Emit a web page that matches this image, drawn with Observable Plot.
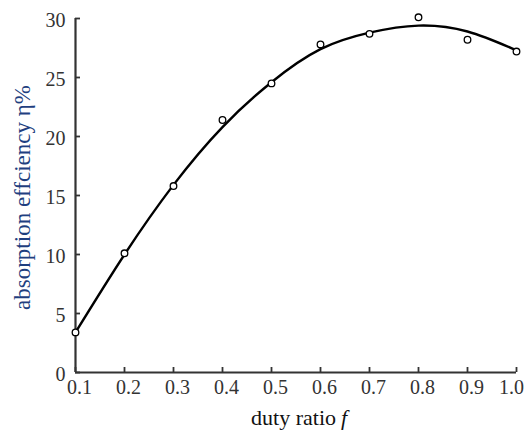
<!DOCTYPE html>
<html>
<head>
<meta charset="utf-8">
<script src="https://cdn.jsdelivr.net/npm/d3@7"></script>
<script src="https://cdn.jsdelivr.net/npm/@observablehq/plot@0.6"></script>
<style>
  html, body { margin: 0; padding: 0; background: #fff; }
  #chart { width: 527px; height: 437px; }
</style>
</head>
<body>
<div id="chart"></div>
<script>
// Measured points
const dutyRatio = [0.1, 0.2, 0.3, 0.4, 0.5, 0.6, 0.7, 0.8, 0.9, 1.0];
const measured  = [3.4, 10.1, 15.8, 21.4, 24.5, 27.8, 28.7, 30.1, 28.2, 27.2];
// Fitted curve values
const fitRatio  = [0.1, 0.2, 0.3, 0.4, 0.5, 0.6, 0.7, 0.8, 0.9, 1.0];
const fitted    = [3.4, 10.0, 15.9, 20.8, 24.6, 27.4, 28.8, 29.4, 28.9, 27.3];
// Ticks
const xTicks = [0.1, 0.2, 0.3, 0.4, 0.5, 0.6, 0.7, 0.8, 0.9, 1.0];
const yTicks = [0, 5, 10, 15, 20, 25, 30];
const xLabel = "duty ratio";
const xLabelItalic = "f";
const yLabel = "absorption effciency η%";

const points = dutyRatio.map((x, i) => ({x, y: measured[i]}));
const curve = fitRatio.map((x, i) => ({x, y: fitted[i]}));

const serif = "'Liberation Serif', 'Times New Roman', serif";
const fmt = d3.format(".1f");

const chart = Plot.plot({
  width: 527,
  height: 437,
  marginLeft: 75,
  marginRight: 11,
  marginTop: 18,
  marginBottom: 65,
  style: {fontFamily: serif, background: "#fff", color: "#222"},
  x: {domain: [0.1, 1.0]},
  y: {domain: [0, 30]},
  marks: [
    // tick labels
    Plot.axisX({ticks: xTicks.slice(0, -1), tickSize: 0, tickPadding: 7, tickFormat: fmt, fontSize: 20, dx: 4, label: null, fill: "#333"}),
    Plot.axisX({ticks: xTicks.slice(-1), tickSize: 0, tickPadding: 7, tickFormat: fmt, fontSize: 20, dx: -5, label: null, fill: "#333"}),
    Plot.axisY({ticks: yTicks, tickSize: 0, tickPadding: 10, fontSize: 20, dy: 2, label: null, fill: "#333"}),
    // inward ticks
    Plot.axisX({ticks: xTicks, tickSize: -5, tickFormat: () => "", label: null, strokeWidth: 1.8, stroke: "#333"}),
    Plot.axisY({ticks: yTicks, tickSize: -5, tickFormat: () => "", label: null, strokeWidth: 1.8, stroke: "#333"}),
    // axis lines
    Plot.ruleX([0.1], {stroke: "#333", strokeWidth: 2.2}),
    Plot.ruleY([0], {stroke: "#333", strokeWidth: 2.2}),
    // fitted curve
    Plot.line(curve, {x: "x", y: "y", curve: "natural", stroke: "#000", strokeWidth: 2.4}),
    // measured points
    Plot.dot(points, {x: "x", y: "y", r: 3.3, stroke: "#000", fill: "#fff", strokeWidth: 1.3}),
    // axis titles
    Plot.text([yLabel], {frameAnchor: "left", textAnchor: "middle", rotate: -90, dx: -53, dy: 2, fill: "#1f3f80", fontSize: 23, fontFamily: serif}),
    Plot.text([xLabel], {frameAnchor: "bottom", textAnchor: "end", dx: 40, dy: 52, fill: "#111", fontSize: 22, fontFamily: serif}),
    Plot.text([xLabelItalic], {frameAnchor: "bottom", textAnchor: "start", dx: 45, dy: 52, fill: "#111", fontSize: 22, fontStyle: "italic", fontFamily: serif})
  ]
});
document.getElementById("chart").appendChild(chart);
</script>
</body>
</html>
